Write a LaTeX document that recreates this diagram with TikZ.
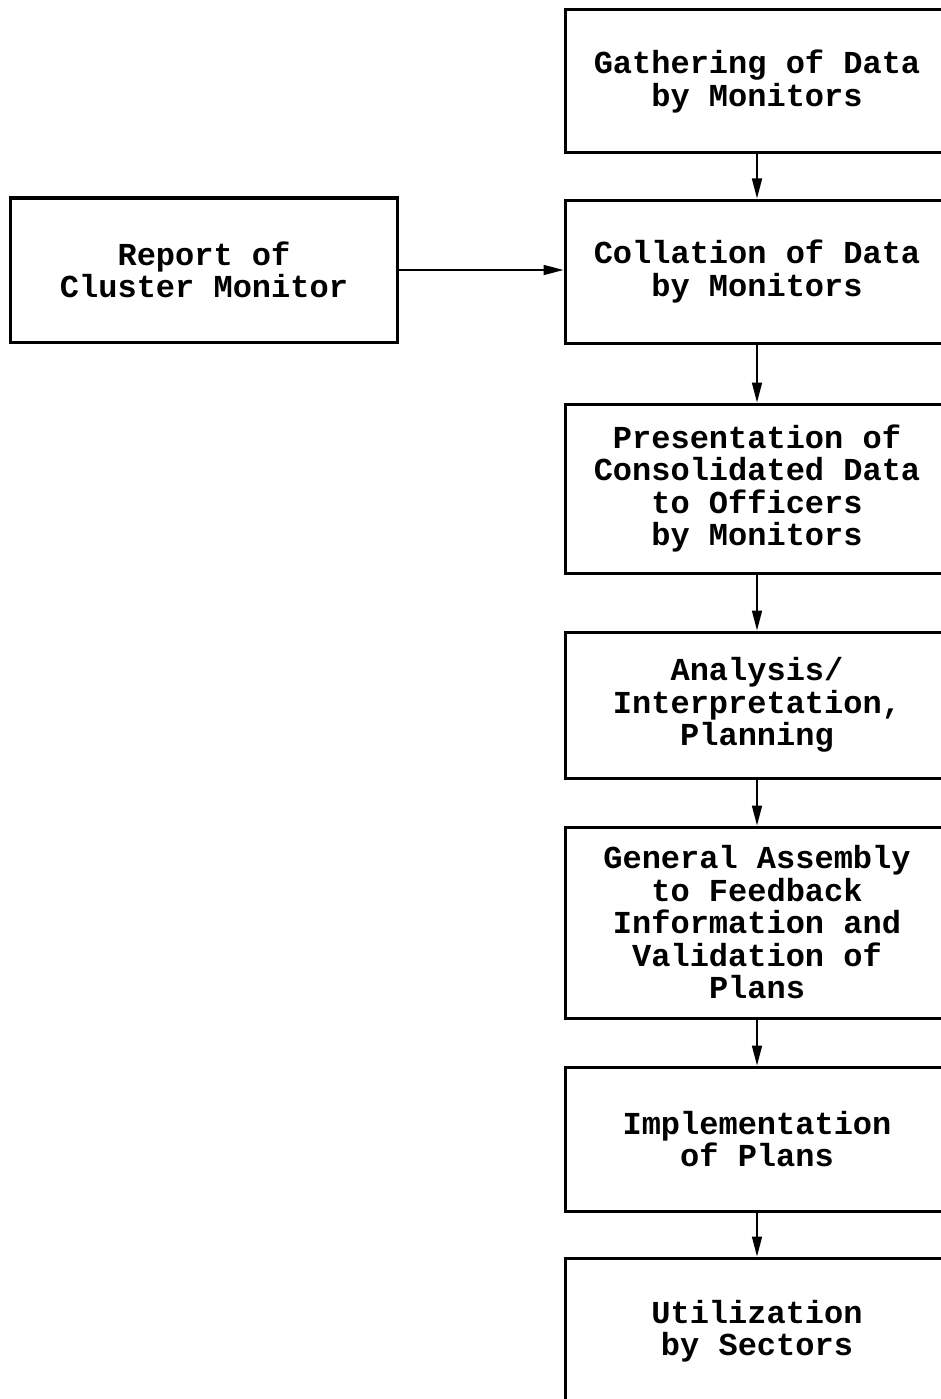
\documentclass[tikz,border=0pt]{standalone}
\usepackage{fontspec}
\setmonofont{Liberation Mono}
\usetikzlibrary{arrows.meta}
\tikzset{
  box/.style={draw, line width=3pt, minimum width=384pt, inner sep=0pt, align=center,
    font=\ttfamily\bfseries\fontsize{32}{32.5}\selectfont},
  flow/.style={line width=1.6pt, -{Triangle[length=20pt,width=10pt]}}
}
\begin{document}
\begin{tikzpicture}[x=1pt,y=-1pt]
\useasboundingbox (0,0) rectangle (941,1399);
\clip (0,0) rectangle (941,1399);
\fill[white] (0,0) rectangle (941,1399);
\node[box, minimum height=143pt] (b1) at (757,81.5) {Gathering of Data\\by Monitors};
\node[box, minimum height=143pt] (b2) at (757,271.5) {Collation of Data\\by Monitors};
\node[box, minimum height=169pt] (b3) at (757,488.5) {Presentation of\\Consolidated Data\\to Officers\\by Monitors};
\node[box, minimum height=146pt] (b4) at (757,705) {Analysis/\\Interpretation,\\Planning};
\node[box, minimum height=191pt] (b5) at (757,922.5) {General Assembly\\to Feedback\\Information and\\Validation of\\Plans};
\node[box, minimum height=144pt] (b6) at (757,1139) {Implementation\\of Plans};
\node[box, minimum height=146pt] (b7) at (757,1331) {Utilization\\by Sectors};
\node[box, minimum width=387pt, minimum height=144pt] (rep) at (204,270) {Report of\\Cluster Monitor};
\draw[flow] (b1) -- (b2);
\draw[flow] (b2) -- (b3);
\draw[flow] (b3) -- (b4);
\draw[flow] (b4) -- (b5);
\draw[flow] (b5) -- (b6);
\draw[flow] (b6) -- (b7);
\draw[flow] (rep.east) -- (rep.east -| b2.west);
\end{tikzpicture}
\end{document}
